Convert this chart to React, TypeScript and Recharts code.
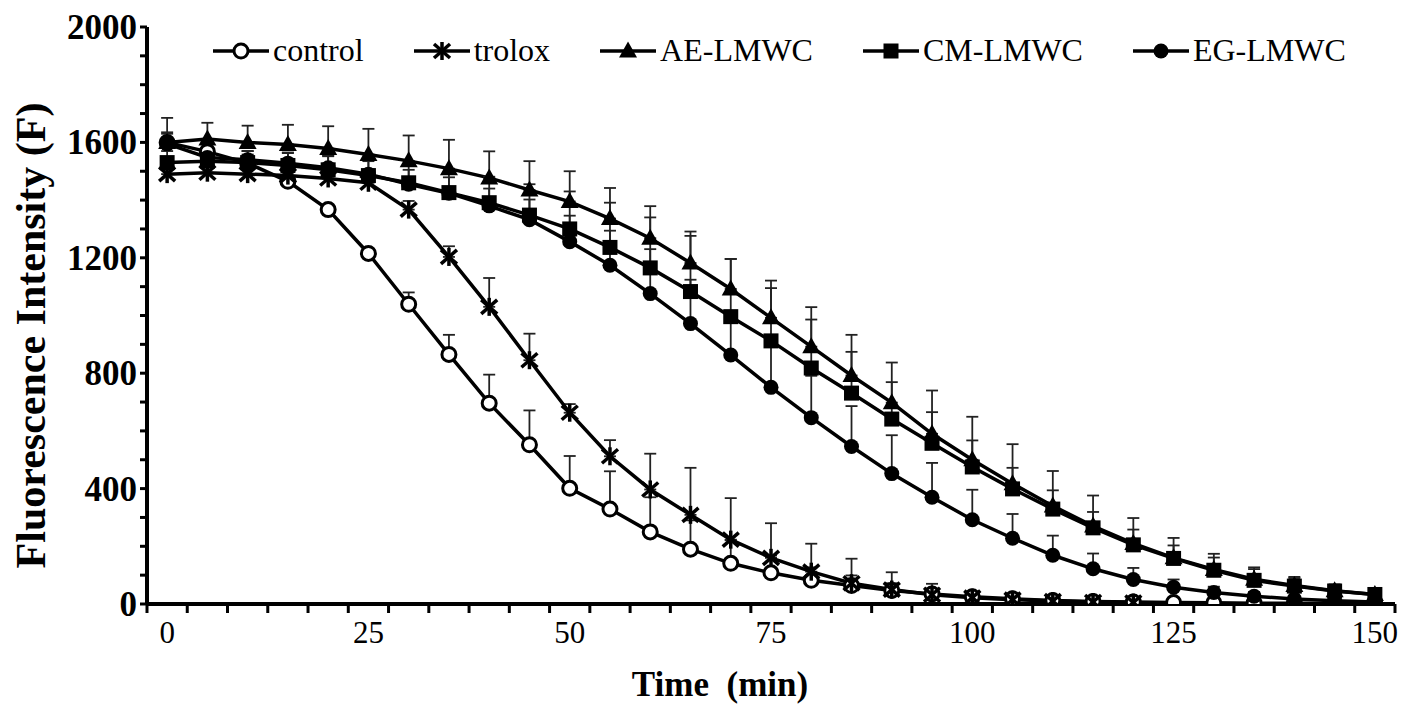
import { LineChart, Line, XAxis, YAxis, ErrorBar, Legend } from 'recharts'

// time points (min)
const times = [0, 5, 10, 15, 20, 25, 30, 35, 40, 45, 50, 55, 60, 65, 70, 75, 80, 85, 90, 95, 100, 105, 110, 115, 120, 125, 130, 135, 140, 145, 150]

// fluorescence intensity, mean + upper SD
const control = [1600, 1568, 1528, 1465, 1367, 1215, 1039, 865, 696, 552, 401, 329, 250, 190, 141, 108, 82, 64, 47, 35, 25, 18, 12, 9, 7, 5, 4, 3, 3, 2, 2]
const controlErr = [30, 30, 30, 30, 12, 12, 41, 68, 99, 119, 112, 131, 120, 100, 80, 60, 45, 35, 25, 18, 12, 8, 6, 4, 3, 2, 2, 2, 1, 1, 1]

const trolox = [1490, 1495, 1490, 1485, 1475, 1460, 1367, 1203, 1030, 845, 663, 512, 397, 309, 223, 160, 112, 72, 50, 32, 22, 15, 10, 7, 5]
const troloxErr = [20, 20, 20, 20, 20, 25, 30, 37, 100, 92, 30, 56, 124, 163, 144, 120, 97, 85, 60, 38, 20, 12, 8, 5, 4]

const aeLmwc = [1600, 1612, 1600, 1593, 1579, 1558, 1536, 1509, 1477, 1435, 1395, 1336, 1268, 1182, 1092, 992, 892, 792, 698, 590, 500, 417, 340, 270, 210, 160, 120, 86, 64, 46, 33]
const aeLmwcErr = [85, 56, 58, 68, 77, 89, 88, 100, 92, 100, 105, 106, 111, 109, 104, 129, 137, 141, 139, 150, 149, 137, 121, 106, 88, 69, 54, 41, 30, 22, 15]

const cmLmwc = [1530, 1535, 1530, 1520, 1505, 1485, 1460, 1426, 1391, 1348, 1300, 1236, 1165, 1083, 996, 912, 818, 731, 641, 557, 475, 399, 329, 264, 205, 158, 117, 82, 62, 45, 33]
const cmLmwcErr = [40, 40, 40, 45, 50, 55, 60, 70, 90, 107, 130, 155, 175, 193, 200, 183, 168, 143, 128, 108, 92, 73, 65, 55, 53, 45, 44, 39, 28, 20, 12]

const egLmwc = [1595, 1548, 1540, 1528, 1512, 1490, 1455, 1424, 1380, 1332, 1256, 1174, 1076, 972, 863, 751, 646, 546, 452, 370, 292, 228, 169, 122, 85, 58, 40, 27, 17, 11, 7]
const egLmwcErr = [40, 30, 30, 35, 40, 45, 50, 55, 60, 70, 90, 120, 154, 152, 150, 150, 145, 140, 133, 119, 104, 84, 68, 53, 40, 27, 20, 15, 10, 7, 5]

const xLabels = [0, 25, 50, 75, 100, 125, 150]
const yTicks = [0, 100, 200, 300, 400, 500, 600, 700, 800, 900, 1000, 1100, 1200, 1300, 1400, 1500, 1600, 1700, 1800, 1900, 2000]
const yLabels = [0, 400, 800, 1200, 1600, 2000]

const FONT = '"Liberation Serif", "Times New Roman", serif'

type MarkerType = 'openCircle' | 'star' | 'triangle' | 'square' | 'circle'

const SERIES: { key: string; name: string; marker: MarkerType; values: number[]; errors: number[] }[] = [
  { key: 'control', name: 'control', marker: 'openCircle', values: control, errors: controlErr },
  { key: 'trolox', name: 'trolox', marker: 'star', values: trolox, errors: troloxErr },
  { key: 'ae', name: 'AE-LMWC', marker: 'triangle', values: aeLmwc, errors: aeLmwcErr },
  { key: 'cm', name: 'CM-LMWC', marker: 'square', values: cmLmwc, errors: cmLmwcErr },
  { key: 'eg', name: 'EG-LMWC', marker: 'circle', values: egLmwc, errors: egLmwcErr },
]

const data = times.map((t, i) => {
  const row: Record<string, unknown> = { t }
  SERIES.forEach((s) => {
    if (s.values[i] !== undefined) {
      row[s.key] = s.values[i]
      row[s.key + 'Err'] = [0, s.errors[i]]
    }
  })
  return row
})

// category boundaries, where the tick marks sit
const xBoundaries = [...times.map((t) => t - 2.5), 152.5]

function Marker({ type, cx, cy }: { type: MarkerType; cx: number; cy: number }) {
  switch (type) {
    case 'openCircle':
      return <circle cx={cx} cy={cy} r={7} fill="#fff" stroke="#000" strokeWidth={3} />
    case 'star':
      return (
        <g stroke="#000" strokeWidth={3.5}>
          <line x1={cx - 8} y1={cy - 7} x2={cx + 8} y2={cy + 7} />
          <line x1={cx - 8} y1={cy + 7} x2={cx + 8} y2={cy - 7} />
          <line x1={cx} y1={cy - 9} x2={cx} y2={cy + 9} />
        </g>
      )
    case 'triangle':
      return <polygon points={`${cx},${cy - 9.5} ${cx + 9},${cy + 6.5} ${cx - 9},${cy + 6.5}`} fill="#000" />
    case 'square':
      return <rect x={cx - 7.5} y={cy - 7.5} width={15} height={15} fill="#000" />
    default:
      return <circle cx={cx} cy={cy} r={7.5} fill="#000" />
  }
}

function XTick(props: any) {
  const { x, y, payload } = props
  const v = payload.value
  if (xLabels.includes(v)) {
    return (
      <text x={x} y={y + 39} textAnchor="middle" fontSize={31} fontFamily={FONT} fill="#000">
        {v}
      </text>
    )
  }
  return <line x1={x} x2={x} y1={y} y2={y + 9} stroke="#000" strokeWidth={3} />
}

function YTick(props: any) {
  const { x, y, payload } = props
  if (!yLabels.includes(payload.value)) return <g />
  return (
    <text x={x} y={y} dy={12} textAnchor="end" fontSize={35} fontWeight="bold" fontFamily={FONT} fill="#000">
      {payload.value}
    </text>
  )
}

// legend drawn in series order
function renderLegend() {
  return (
    <div style={{ display: 'flex', alignItems: 'center', gap: 50, fontFamily: FONT, fontSize: 32, color: '#000' }}>
      {SERIES.map((s) => (
        <div key={s.key} style={{ display: 'flex', alignItems: 'center', gap: 4 }}>
          <svg width={56} height={22}>
            <line x1={0} x2={56} y1={11} y2={11} stroke="#000" strokeWidth={3.5} />
            <Marker type={s.marker} cx={28} cy={11} />
          </svg>
          <span>{s.name}</span>
        </div>
      ))}
    </div>
  )
}

export default function App() {
  return (
    <LineChart width={1390} height={699} data={data} margin={{ top: 19, right: 3, left: 0, bottom: 0 }}>
      <XAxis
        dataKey="t"
        type="number"
        domain={[-2.5, 152.5]}
        ticks={[...xBoundaries, ...xLabels]}
        interval={0}
        tickSize={0}
        tickMargin={0}
        tickLine={false}
        tick={XTick}
        axisLine={{ stroke: '#000', strokeWidth: 4 }}
        height={103}
        label={{
          content: (p: any) => (
            <text
              x={p.viewBox.x + p.viewBox.width / 2 - 51}
              y={p.viewBox.y + 92}
              textAnchor="middle"
              fontSize={35}
              fontWeight="bold"
              fontFamily={FONT}
              fill="#000"
              style={{ whiteSpace: 'pre' }}
            >
              {'Time  (min)'}
            </text>
          ),
        }}
      />
      <YAxis
        type="number"
        domain={[0, 2000]}
        ticks={yTicks}
        interval={0}
        width={139}
        tickSize={7}
        tickMargin={3}
        tickLine={{ stroke: '#000', strokeWidth: 3 }}
        axisLine={{ stroke: '#000', strokeWidth: 4 }}
        tick={YTick}
        allowDataOverflow
        label={{
          content: (p: any) => {
            const cx = p.viewBox.x + 23
            const cy = p.viewBox.y + p.viewBox.height / 2 + 20
            return (
              <text
                x={cx}
                y={cy}
                transform={`rotate(-90, ${cx}, ${cy})`}
                textAnchor="middle"
                dominantBaseline="central"
                fontSize={42}
                fontWeight="bold"
                fontFamily={FONT}
                fill="#000"
              >
                Fluorescence Intensity (F)
              </text>
            )
          },
        }}
      />
      <Legend
        layout="horizontal"
        verticalAlign="middle"
        align="center"
        wrapperStyle={{ top: 24, left: 205, width: 1180, height: 40 }}
        content={renderLegend}
      />
      {SERIES.map((s) => (
        <Line
          key={s.key}
          dataKey={s.key}
          name={s.name}
          type="linear"
          stroke="#000"
          strokeWidth={3.5}
          isAnimationActive={false}
          activeDot={false}
          dot={(p: any) =>
            p.cy == null ? <g key={`${s.key}-${p.index}`} /> : <Marker key={`${s.key}-${p.index}`} type={s.marker} cx={p.cx} cy={p.cy} />
          }
        >
          <ErrorBar dataKey={s.key + 'Err'} direction="y" width={6} stroke="#222" strokeWidth={1.8} isAnimationActive={false} />
        </Line>
      ))}
    </LineChart>
  )
}
